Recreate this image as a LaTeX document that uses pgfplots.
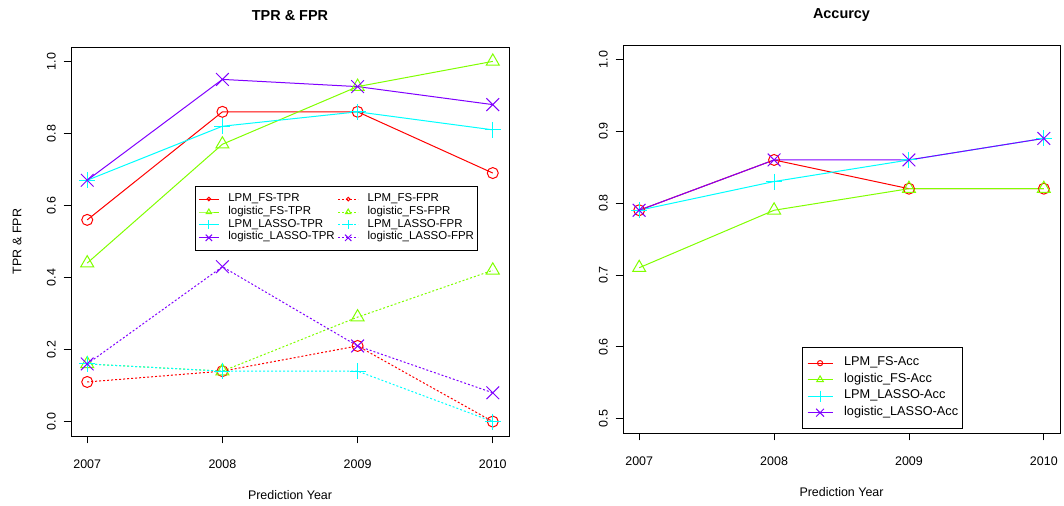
\documentclass[border=0pt]{standalone}
\usepackage{pgfplots}
\pgfplotsset{compat=1.18}
\usepackage{pgfplotstable}
\usepackage{fontspec}
\setmainfont{Liberation Sans}

\definecolor{rred}{HTML}{FF0000}
\definecolor{rgreen}{HTML}{80FF00}
\definecolor{rcyan}{HTML}{00FFFF}
\definecolor{rpurple}{HTML}{8000FF}

% True positive rates by prediction year
\pgfplotstableread{
year lpmfs logfs lpmlasso loglasso
2007 0.56 0.44 0.67 0.67
2008 0.86 0.77 0.82 0.95
2009 0.86 0.93 0.86 0.93
2010 0.69 1.00 0.81 0.88
}\tprtable

% False positive rates by prediction year
\pgfplotstableread{
year lpmfs logfs lpmlasso loglasso
2007 0.11 0.16 0.16 0.16
2008 0.14 0.14 0.14 0.43
2009 0.21 0.29 0.14 0.21
2010 0.00 0.42 0.00 0.08
}\fprtable

% Accuracy by prediction year
\pgfplotstableread{
year lpmfs logfs lpmlasso loglasso
2007 0.79 0.71 0.79 0.79
2008 0.86 0.79 0.83 0.86
2009 0.82 0.82 0.86 0.86
2010 0.82 0.82 0.89 0.89
}\acctable

\pgfplotsset{
  rframe/.style={
    scale only axis,
    xmin=2006.88, xmax=2010.12,
    xtick={2007,2008,2009,2010},
    xticklabels={2007,2008,2009,2010},
    tick align=outside,
    xtick pos=bottom, ytick pos=left,
    major tick length=7.5bp,
    tick style={black, line width=0.8bp},
    axis line style={line width=0.8bp},
    tick label style={font=\fontsize{12.5}{14}\selectfont},
    xticklabel style={anchor=base, yshift=-25bp},
    yticklabel style={xshift=-8bp, rotate=90, anchor=base},
    title style={font=\bfseries\fontsize{14.5}{17}\selectfont,
      at={([yshift=21bp]axis description cs:0.5,1)}, anchor=base},
    label style={font=\fontsize{12.5}{14}\selectfont},
    xlabel style={at={([yshift=-64bp]axis description cs:0.5,0)}, anchor=base},
    ylabel style={at={([xshift=-49.5bp]axis description cs:0,0.5)}, anchor=base},
    legend cell align=left,
  },
  tprline/.style={line width=1bp, solid},
  fprline/.style={line width=1bp, dash pattern=on 2bp off 2bp},
  mk o/.style={mark=o, mark size=5.5bp, mark options={solid}},
  mk t/.style={mark=triangle, mark size=7.5bp, mark options={solid}},
  mk p/.style={mark=+, mark size=8bp, mark options={solid}},
  mk x/.style={mark=x, mark size=9bp, mark options={solid}},
}

\begin{document}
\begin{tikzpicture}[x=1bp, y=1bp]
\useasboundingbox (0,0) rectangle (1064,506);

% ---------------- TPR & FPR ----------------
\begin{axis}[rframe,
  at={(71bp,70bp)}, anchor=south west,
  width=438bp, height=389bp,
  ymin=-0.04, ymax=1.04,
  ytick={0,0.2,0.4,0.6,0.8,1.0},
  yticklabels={0.0,0.2,0.4,0.6,0.8,1.0},
  title={TPR \& FPR},
  xlabel={Prediction Year},
  ylabel={TPR \& FPR},
  legend columns=2,
  legend image code/.code={\draw[mark repeat=2, mark phase=2, #1]
    plot coordinates {(0bp,0bp) (10bp,0bp) (20bp,0bp)};},
  legend style={at={(rel axis cs:0.283,0.642)}, anchor=north west,
    draw=black, line width=0.8bp, fill=white,
    inner xsep=3bp, inner ysep=6bp,
    font=\fontsize{11.5}{13}\selectfont,
    nodes={inner sep=0pt, text height=8.6bp, text depth=4.3bp},
    row sep=0pt,
    /tikz/every odd column/.append style={column sep=9bp},
    /tikz/every even column/.append style={column sep=3bp}},
]
\addplot[forget plot, rred, tprline, mk o] table[x=year, y=lpmfs] {\tprtable};
\addplot[forget plot, rgreen, tprline, mk t] table[x=year, y=logfs] {\tprtable};
\addplot[forget plot, rcyan, tprline, mk p] table[x=year, y=lpmlasso] {\tprtable};
\addplot[forget plot, rpurple, tprline, mk x] table[x=year, y=loglasso] {\tprtable};
\addplot[forget plot, rred, fprline, mk o] table[x=year, y=lpmfs] {\fprtable};
\addplot[forget plot, rgreen, fprline, mk t] table[x=year, y=logfs] {\fprtable};
\addplot[forget plot, rcyan, fprline, mk p] table[x=year, y=lpmlasso] {\fprtable};
\addplot[forget plot, rpurple, fprline, mk x] table[x=year, y=loglasso] {\fprtable};

\addlegendimage{rred, tprline, mark=o, mark size=1.8bp, mark options={solid}}
\addlegendentry{LPM\_FS-TPR}
\addlegendimage{rred, fprline, mark=o, mark size=1.8bp, mark options={solid}}
\addlegendentry{LPM\_FS-FPR}
\addlegendimage{rgreen, tprline, mark=triangle, mark size=3bp, mark options={solid}}
\addlegendentry{logistic\_FS-TPR}
\addlegendimage{rgreen, fprline, mark=triangle, mark size=3bp, mark options={solid}}
\addlegendentry{logistic\_FS-FPR}
\addlegendimage{rcyan, tprline, mark=+, mark size=4.5bp, mark options={solid}}
\addlegendentry{LPM\_LASSO-TPR}
\addlegendimage{rcyan, fprline, mark=+, mark size=4.5bp, mark options={solid}}
\addlegendentry{LPM\_LASSO-FPR}
\addlegendimage{rpurple, tprline, mark=x, mark size=4.5bp, mark options={solid}}
\addlegendentry{logistic\_LASSO-TPR}
\addlegendimage{rpurple, fprline, mark=x, mark size=4.5bp, mark options={solid}}
\addlegendentry{logistic\_LASSO-FPR}
\end{axis}

% ---------------- Accuracy ----------------
\begin{axis}[rframe,
  at={(623bp,73bp)}, anchor=south west,
  width=437bp, height=388bp,
  ymin=0.48, ymax=1.02,
  ytick={0.5,0.6,0.7,0.8,0.9,1.0},
  yticklabels={0.5,0.6,0.7,0.8,0.9,1.0},
  title={Accurcy},
  xlabel={Prediction Year},
  legend image code/.code={\draw[mark repeat=2, mark phase=2, #1]
    plot coordinates {(0bp,0bp) (12.5bp,0bp) (25bp,0bp)};},
  legend style={at={(rel axis cs:0.41,0.2216)}, anchor=north west,
    draw=black, line width=0.8bp, fill=white,
    inner xsep=4.5bp, inner ysep=7.5bp,
    font=\fontsize{12.8}{15}\selectfont,
    nodes={inner sep=0pt, text height=11bp, text depth=5.5bp},
    row sep=0pt,
    /tikz/every odd column/.append style={column sep=11bp}},
]
\addplot[forget plot, rred, tprline, mk o] table[x=year, y=lpmfs] {\acctable};
\addplot[forget plot, rgreen, tprline, mk t] table[x=year, y=logfs] {\acctable};
\addplot[forget plot, rcyan, tprline, mk p] table[x=year, y=lpmlasso] {\acctable};
\addplot[forget plot, rpurple, tprline, mk x] table[x=year, y=loglasso] {\acctable};

\addlegendimage{rred, tprline, mark=o, mark size=2.6bp}
\addlegendentry{LPM\_FS-Acc}
\addlegendimage{rgreen, tprline, mark=triangle, mark size=3.8bp}
\addlegendentry{logistic\_FS-Acc}
\addlegendimage{rcyan, tprline, mark=+, mark size=5.5bp}
\addlegendentry{LPM\_LASSO-Acc}
\addlegendimage{rpurple, tprline, mark=x, mark size=5.5bp}
\addlegendentry{logistic\_LASSO-Acc}
\end{axis}
\end{tikzpicture}
\end{document}
